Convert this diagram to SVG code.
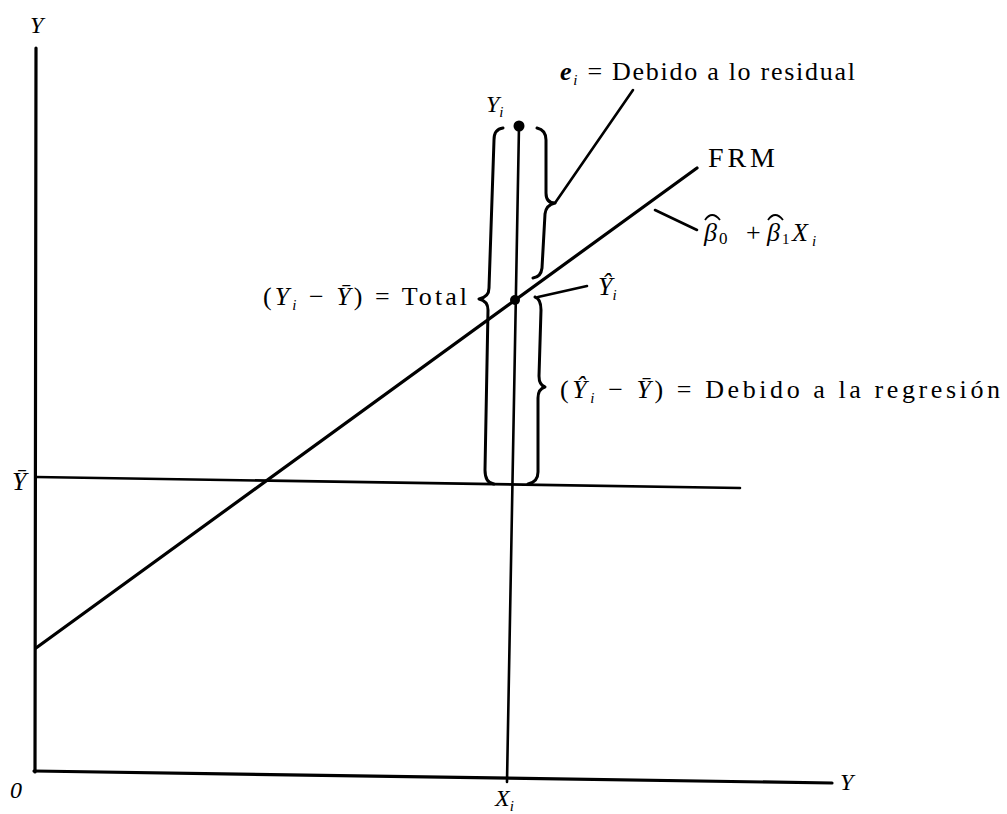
<svg xmlns="http://www.w3.org/2000/svg" width="1007" height="814" viewBox="0 0 1007 814">
<style>
.ln{fill:none;stroke:#000;stroke-linecap:round;stroke-linejoin:round}
.ax{stroke-width:3.2}
.th{stroke-width:2.6}
.br{stroke-width:3}
.hat{fill:none;stroke:#000;stroke-width:1.8}
text{font-family:"Liberation Serif","DejaVu Serif",serif;fill:#000}
.it{font-style:italic}
.lbl{font-size:26px}
.sub{font-size:15px;font-style:italic}
</style>
<rect width="1007" height="814" fill="#fff"/>
<g id="axes">
<line class="ln ax" x1="36" y1="48" x2="35" y2="772"/>
<line class="ln ax" x1="34" y1="771" x2="832" y2="783"/>
<text class="it" x="30" y="33" font-size="24">Y</text>
<text class="it" x="10" y="798" font-size="24">0</text>
<text class="it" x="840" y="790" font-size="24">Y</text>
</g>
<g id="mean-line">
<line class="ln th" x1="36" y1="477" x2="740" y2="488"/>
<text class="it" x="12" y="490" font-size="26">Ȳ</text>
</g>
<g id="frm">
<line class="ln ax" x1="36" y1="648" x2="697" y2="168"/>
<text x="708" y="167" font-size="28" textLength="67" lengthAdjust="spacing">FRM</text>
<line class="ln th" x1="655" y1="210" x2="697" y2="230"/>
<text class="lbl" y="241"><tspan class="it" x="704">β</tspan><tspan font-size="17" x="719" dy="3">0</tspan><tspan x="746" dy="-3">+</tspan><tspan class="it" x="767">β</tspan><tspan font-size="15" x="782" dy="3">1</tspan><tspan class="it" x="792" dy="-3">X</tspan><tspan class="sub" x="812" dy="5">i</tspan></text>
<path class="hat" d="M705,220 Q712,210 720,220"/>
<path class="hat" d="M768,220 Q775,210 783,220"/>
</g>
<g id="xi-line">
<line class="ln th" x1="519" y1="126" x2="507" y2="782"/>
<circle cx="519" cy="126" r="5.5" fill="#000"/>
<circle cx="515" cy="300" r="5" fill="#000"/>
<text class="it" x="486" y="112" font-size="24">Y<tspan class="sub" dy="5">i</tspan></text>
<text class="it" x="495" y="806" font-size="24">X<tspan class="sub" dy="5">i</tspan></text>
<line class="ln th" x1="538" y1="297" x2="587" y2="286"/>
<text class="it" x="598" y="295" font-size="26">Ŷ<tspan class="sub" dy="5">i</tspan></text>
</g>
<g id="total">
<path class="ln br" d="M503,128 Q494,129 494,140 L489,288 Q489,297 479,299 Q488,301 488,310 L485,470 Q485,483 494,484"/>
<text class="lbl" x="263" y="305" font-size="24" textLength="204" lengthAdjust="spacing">(<tspan class="it">Y</tspan><tspan class="sub" dy="5">i</tspan><tspan dy="-5"> − </tspan><tspan class="it">Ȳ</tspan>) = Total</text>
</g>
<g id="residual">
<path class="ln br" d="M537,128 Q546,130 546,140 L546,193 Q546,203 555,203 Q546,205 545,214 L542,268 Q541,277 533,278"/>
<line class="ln th" x1="555" y1="203" x2="633" y2="90"/>
<text class="lbl" x="560" y="80" textLength="295" lengthAdjust="spacing"><tspan class="it" font-weight="bold">e</tspan><tspan class="sub" dy="5">i</tspan><tspan dy="-5"> = Debido a lo residual</tspan></text>
</g>
<g id="regression">
<path class="ln br" d="M535,297 Q541,299 541,310 L539,376 Q539,385 545,387 Q538,389 538,398 L538,472 Q538,482 528,484"/>
<text class="lbl" x="560" y="398" textLength="440" lengthAdjust="spacing">(<tspan class="it">Ŷ</tspan><tspan class="sub" dy="5">i</tspan><tspan dy="-5"> − </tspan><tspan class="it">Ȳ</tspan>) = Debido a la regresión</text>
</g>
</svg>
